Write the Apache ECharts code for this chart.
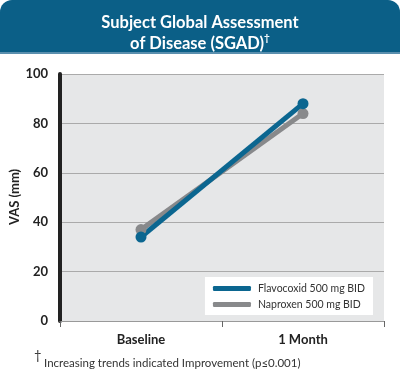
<!DOCTYPE html>
<html><head><meta charset="utf-8">
<script src="https://cdn.jsdelivr.net/npm/echarts@6/dist/echarts.min.js"></script>
<style>html,body{margin:0;padding:0;background:#fff}#c{width:400px;height:381px}</style>
</head><body><div id="c"></div>
<script>
const categories = ['Baseline', '1 Month'];
const flavocoxid = [34, 88];
const naproxen = [37, 84];
const yTicks = [0, 20, 40, 60, 80, 100];
const seriesNames = ['Flavocoxid 500 mg BID', 'Naproxen 500 mg BID'];
const yAxisTitle = 'VAS (mm)';

const chart = echarts.init(document.getElementById('c'));
const font = 'Lato, "Open Sans", sans-serif';
chart.setOption({
  animation: false,
  title: {
    text: '{t|Subject Global Assessment}\n{t|of Disease (SGAD)}{s|†}',
    left: 'center', top: 7,
    textStyle: {
      rich: {
        t: {color: '#fff', fontSize: 16.5, fontWeight: 'bold', fontFamily: font, lineHeight: 21},
        s: {color: '#fff', fontSize: 10, fontWeight: 'bold', fontFamily: font, verticalAlign: 'top', lineHeight: 21, padding:[0,0,8,0]}
      }
    }
  },
  graphic: [
    {type: 'rect', z: -1, shape: {x: 0, y: 0, width: 400, height: 52, r: [12, 12, 0, 0]}, style: {fill: '#0b5f87'}},
    {type: 'rect', z: -1, shape: {x: 0, y: 52, width: 400, height: 2}, style: {fill: '#5a8fae'}},
    {type: 'text', x: 15, y: 197, rotation: Math.PI / 2,
      style: {text: yAxisTitle, fontSize: 13, fontWeight: 'bold', fill: '#222', fontFamily: font, align: 'center', verticalAlign: 'middle'}},
    {type: 'text', left: 34, top: 349, style: {text: '†', fontSize: 13, fill: '#333', fontFamily: font}},
    {type: 'text', left: 44, top: 357, style: {text: 'Increasing trends indicated Improvement (p≤0.001)', fontSize: 11.5, fill: '#333', fontFamily: font}}
  ],
  grid: {left: 60, right: 16, top: 74, bottom: 60, backgroundColor: '#e6e7e8', show: true, borderWidth: 0,
    outerBoundsMode: 'none', containLabel: false},
  legend: {
    data: seriesNames, orient: 'vertical', right: 27, top: 277,
    backgroundColor: '#fff', padding: [6, 8, 5, 8], itemGap: 5,
    itemWidth: 38, itemHeight: 5, icon: 'roundRect',
    textStyle: {fontSize: 10.5, color: '#333', fontFamily: font, padding: [0, 0, 0, 2]}
  },
  xAxis: {
    type: 'category', data: categories, boundaryGap: true,
    axisLine: {lineStyle: {color: '#999', width: 1}},
    axisTick: {show: true, length: 6, lineStyle: {color: '#666'}},
    axisLabel: {fontSize: 13, fontWeight: 'bold', color: '#222', fontFamily: font, margin: 12}
  },
  yAxis: {
    type: 'value', min: 0, max: 100, interval: 20,
    axisLine: {show: true, lineStyle: {color: '#222', width: 4}},
    axisTick: {show: false},
    axisLabel: {fontSize: 13, fontWeight: 'bold', color: '#222', fontFamily: font, margin: 12,
      formatter: v => yTicks.includes(v) ? String(v) : ''},
    splitLine: {lineStyle: {color: '#aaa', width: 1}}
  },
  series: [
    {name: seriesNames[1], type: 'line', data: naproxen, symbol: 'circle', symbolSize: 11,
      lineStyle: {width: 5, color: '#88898b'}, itemStyle: {color: '#88898b'}},
    {name: seriesNames[0], type: 'line', data: flavocoxid, symbol: 'circle', symbolSize: 11,
      lineStyle: {width: 5, color: '#0b6690'}, itemStyle: {color: '#0b6690'}}
  ]
});
</script></body></html>
